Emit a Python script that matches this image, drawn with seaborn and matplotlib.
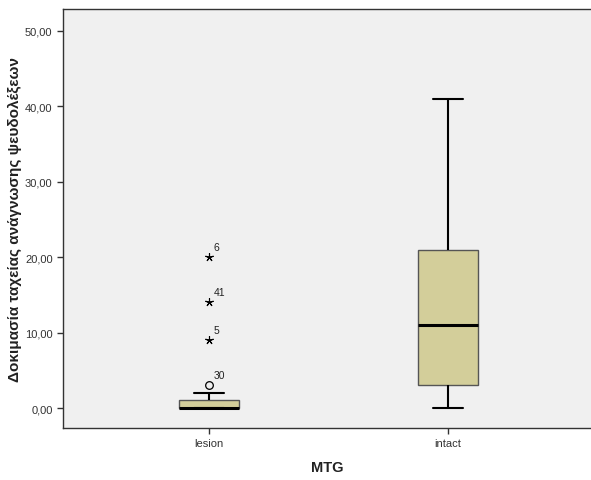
import numpy as np
import pandas as pd
import matplotlib
matplotlib.use("Agg")
import matplotlib.pyplot as plt
import seaborn as sns

# Scores per group
groups = ["lesion", "intact"]
lesion_scores = [0, 0, 0, 0, 0, 0, 0, 0, 0, 0, 0, 1, 1, 1, 1, 1, 2, 3, 9, 14, 20]
intact_scores = [0, 1, 2, 2, 3, 3, 5, 7, 8, 10, 11, 12, 14, 16, 18, 21, 24, 28, 32, 36, 41]
# Case numbers of the flagged lesion scores
lesion_case_ids = {3: "30", 9: "5", 14: "41", 20: "6"}

y_ticks = [0, 10, 20, 30, 40, 50]
y_tick_labels = ["0,00", "10,00", "20,00", "30,00", "40,00", "50,00"]

df = pd.DataFrame({
    "MTG": ["lesion"] * len(lesion_scores) + ["intact"] * len(intact_scores),
    "score": lesion_scores + intact_scores,
})

sns.set_style("white")
plt.rcParams["font.family"] = ["Liberation Sans", "DejaVu Sans"]

fig = plt.figure(figsize=(5.91, 4.81), dpi=100)
ax = fig.add_axes([63 / 591, 52 / 481, 1 - 63 / 591, 419 / 481])
ax.set_facecolor("#f0f0f0")

sns.boxplot(
    data=df, x="MTG", y="score", order=groups, ax=ax,
    width=0.25, whis=1.5, showfliers=False,
    color="#d3ce9a", saturation=1,
    boxprops=dict(edgecolor="#555555", linewidth=1.0),
    whiskerprops=dict(color="black", linewidth=1.5),
    capprops=dict(color="black", linewidth=1.5),
    medianprops=dict(color="black", linewidth=2.2),
)

# Outliers beyond 1.5 IQR (circle) and 3 IQR (star)
arr = np.array(lesion_scores, dtype=float)
q1, q3 = np.percentile(arr, [25, 75])
iqr = q3 - q1
for v in sorted(set(lesion_scores)):
    if v > q3 + 3 * iqr:
        ax.plot(0, v, marker=(5, 2, 0), color="black", markersize=6, mew=0.8)
    elif v > q3 + 1.5 * iqr:
        ax.plot(0, v, marker="o", mfc="none", mec="black", markersize=5.5, mew=0.9)
    else:
        continue
    ax.annotate(lesion_case_ids[v], (0, v), xytext=(3.5, 5), textcoords="offset points",
                fontsize=7.5, color="#222222")

ax.set_xlim(-0.61, 1.60)
ax.set_ylim(-2.65, 52.9)
ax.set_yticks(y_ticks)
ax.set_yticklabels(y_tick_labels)

ax.spines["right"].set_visible(False)
for s in ["left", "top", "bottom"]:
    ax.spines[s].set_color("#333333")
    ax.spines[s].set_linewidth(1.0)

ax.tick_params(axis="both", direction="out", length=4, width=1, color="#333333",
               labelsize=8, labelcolor="#333333", left=True, bottom=True)

ax.set_xlabel("MTG", fontsize=10.5, fontweight="bold", labelpad=8, color="#222222")
ax.set_ylabel("Δοκιμασία ταχείας ανάγνωσης ψευδολέξεων", fontsize=11,
              fontweight="bold", labelpad=2, color="#222222")

fig.savefig("out.png", dpi=100)
